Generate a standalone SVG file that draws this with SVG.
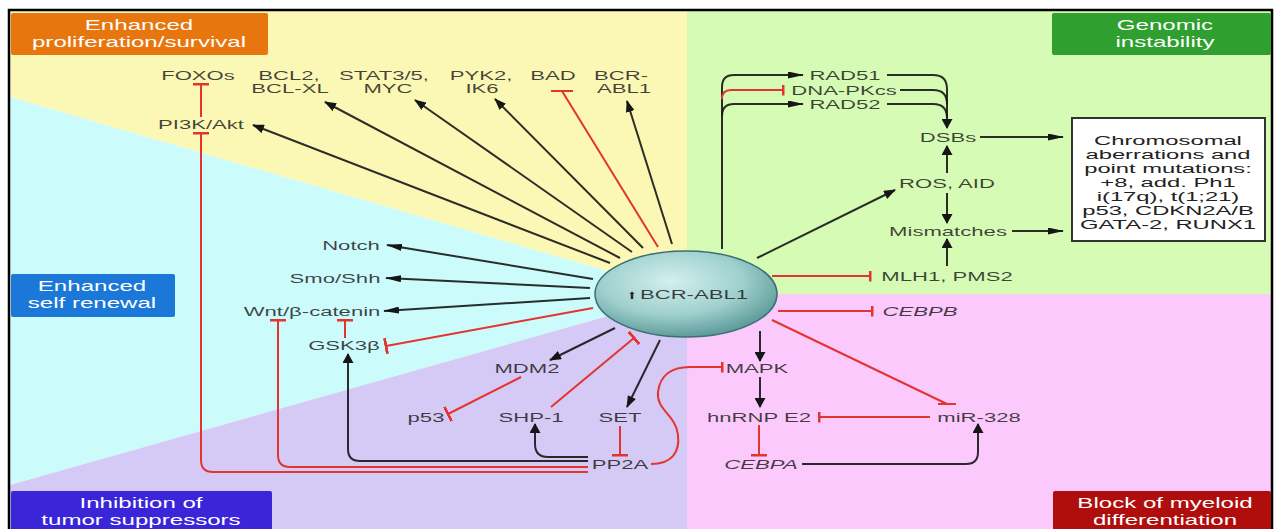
<svg xmlns="http://www.w3.org/2000/svg" width="1276" height="529" viewBox="0 0 1276 529">
<style>
.t{font-family:"Liberation Sans",Arial,sans-serif;font-size:13px;fill:#1a1a1a;fill-opacity:.82;text-anchor:middle}
.i{font-style:italic}
.w{font-family:"Liberation Sans",Arial,sans-serif;font-size:14px;fill:#fff;text-anchor:middle}
.c{font-family:"Liberation Sans",Arial,sans-serif;font-size:13.5px;fill:#222;text-anchor:middle}
.k{stroke:#161616;stroke-width:2;fill:none;stroke-opacity:.9}
.r{stroke:#e3342f;stroke-width:2;fill:none}
</style>
<defs>
<marker id="a" viewBox="0 0 12 9" refX="11" refY="4.5" markerWidth="12" markerHeight="9" markerUnits="userSpaceOnUse" orient="auto"><path d="M0,0L12,4.5L0,9z" fill="#161616"/></marker>
<marker id="ah" viewBox="0 0 16 7" refX="15" refY="3.5" markerWidth="16" markerHeight="7" markerUnits="userSpaceOnUse" orient="auto"><path d="M0,0L16,3.5L0,7z" fill="#161616"/></marker>
<marker id="av" viewBox="0 0 10 11" refX="9" refY="5.5" markerWidth="10" markerHeight="11" markerUnits="userSpaceOnUse" orient="auto"><path d="M0,0L10,5.5L0,11z" fill="#161616"/></marker>
<marker id="b" viewBox="0 0 3 16" refX="1.5" refY="8" markerWidth="3" markerHeight="16" markerUnits="userSpaceOnUse" orient="auto"><rect width="3" height="16" fill="#e3342f"/></marker>
<marker id="bs" viewBox="0 0 3 11" refX="1.5" refY="5.5" markerWidth="3" markerHeight="11" markerUnits="userSpaceOnUse" orient="auto"><rect width="3" height="11" fill="#e3342f"/></marker>
<radialGradient id="g" cx="42%" cy="35%" r="65%"><stop offset="0" stop-color="#d2f0ee"/><stop offset="0.6" stop-color="#9fd0cd"/><stop offset="1" stop-color="#5f9c9c"/></radialGradient>
</defs>

<g id="background">
<rect width="1276" height="529" fill="#fff"/>
<polygon points="10,10 687,10 687,294 686,294 10,97" fill="#fbf8b6"/>
<rect x="687" y="10" width="585" height="284" fill="#d6fbb4"/>
<rect x="687" y="294" width="585" height="235" fill="#fbc9fb"/>
<polygon points="10,97 686,294 10,485" fill="#cbfbfb"/>
<polygon points="10,485 686,294 687,294 687,529 10,529" fill="#d5c9f6"/>
<rect x="9" y="10" width="1263" height="525" fill="none" stroke="#000" stroke-width="2.5"/>
</g>

<g id="box-proliferation">
<rect x="11" y="13" width="257" height="42" rx="2" fill="#e8760e"/>
<text class="w" transform="translate(139 30) scale(1.72 1)">Enhanced</text>
<text class="w" transform="translate(139 47) scale(1.72 1)">proliferation/survival</text>
</g>
<g id="box-genomic">
<rect x="1052" y="13" width="219" height="42" rx="2" fill="#2f9f2f"/>
<text class="w" transform="translate(1165 30) scale(1.72 1)">Genomic</text>
<text class="w" transform="translate(1165 47) scale(1.72 1)">instability</text>
</g>
<g id="box-selfrenewal">
<rect x="11" y="274" width="164" height="43" rx="2" fill="#1b78d8"/>
<text class="w" transform="translate(92 291) scale(1.72 1)">Enhanced</text>
<text class="w" transform="translate(92 308) scale(1.72 1)">self renewal</text>
</g>
<g id="box-tumor">
<rect x="11" y="491" width="261" height="40" rx="2" fill="#3a25d8"/>
<text class="w" transform="translate(141 508) scale(1.72 1)">Inhibition of</text>
<text class="w" transform="translate(141 525) scale(1.72 1)">tumor suppressors</text>
</g>
<g id="box-myeloid">
<rect x="1053" y="491" width="218" height="40" rx="2" fill="#b00d0d"/>
<text class="w" transform="translate(1165 508) scale(1.72 1)">Block of myeloid</text>
<text class="w" transform="translate(1165 525) scale(1.72 1)">differentiation</text>
</g>

<g id="connectors">
<path class="k" d="M610,263 L253,125" marker-end="url(#a)"/>
<path class="k" d="M620,258 L325,102" marker-end="url(#a)"/>
<path class="k" d="M632,252 L415,100" marker-end="url(#a)"/>
<path class="k" d="M643,248 L495,99" marker-end="url(#a)"/>
<path class="k" d="M672,244 L627,101" marker-end="url(#a)"/>
<path class="k" d="M593,279 L387,245" marker-end="url(#ah)"/>
<path class="k" d="M590,288 L386,278" marker-end="url(#ah)"/>
<path class="k" d="M590,298 L384,311" marker-end="url(#ah)"/>
<path class="k" d="M615,328 L550,360" marker-end="url(#a)"/>
<path class="k" d="M660,340 L627,407" marker-end="url(#a)"/>
<path class="k" d="M760,331 L760,361" marker-end="url(#av)"/>
<path class="k" d="M760,377 L760,407" marker-end="url(#av)"/>
<path class="k" d="M802,464 L966,464 Q978,464 978,452 L978,424" marker-end="url(#av)"/>
<path class="k" d="M588,457 L548,457 Q535,457 535,444 L535,424" marker-end="url(#av)"/>
<path class="k" d="M588,461 L360,461 Q348,461 348,449 L348,354" marker-end="url(#av)"/>
<path class="k" d="M757,258 L895,190" marker-end="url(#a)"/>
<path class="k" d="M722,249 L722,87 Q722,75 734,75 L803,75" marker-end="url(#ah)"/>
<path class="k" d="M722,116 Q722,104 734,104 L803,104" marker-end="url(#ah)"/>
<path class="k" d="M887,75 L933,75 Q947,75 947,89 L947,128" marker-end="url(#av)"/>
<path class="k" d="M900,90 L933,90 Q947,90 947,104"/>
<path class="k" d="M887,104 L933,104 Q947,104 947,118"/>
<path class="k" d="M980,137 L1063,137" marker-end="url(#ah)"/>
<path class="k" d="M947,173 L947,146" marker-end="url(#av)"/>
<path class="k" d="M947,193 L947,223" marker-end="url(#av)"/>
<path class="k" d="M947,266 L947,239" marker-end="url(#av)"/>
<path class="k" d="M1012,231 L1063,231" marker-end="url(#ah)"/>
<path class="r" d="M201,117 L201,84" marker-end="url(#b)"/>
<path class="r" d="M588,472 L213,472 Q201,472 201,460 L201,133" marker-end="url(#b)"/>
<path class="r" d="M588,467 L290,467 Q278,467 278,455 L278,320" marker-end="url(#b)"/>
<path class="r" d="M345,338 L345,320" marker-end="url(#b)"/>
<path class="r" d="M593,308 L386,346" marker-end="url(#b)"/>
<path class="r" d="M658,247 L562,91"/>
<path class="r" d="M551,91 L573,91" stroke-width="3"/>
<path class="r" d="M521,377 L448,414" marker-end="url(#b)"/>
<path class="r" d="M551,407 L634,338" marker-end="url(#b)"/>
<path class="r" d="M620,426 L620,455" marker-end="url(#b)"/>
<path class="r" d="M651,464 C672,464 680,452 678,435 C676,415 656,410 658,392 C660,375 672,367 690,367 L722,367" marker-end="url(#bs)"/>
<path class="r" d="M759,425 L759,455" marker-end="url(#b)"/>
<path class="r" d="M930,417 L819,417" marker-end="url(#bs)"/>
<path class="r" d="M772,320 L947,404"/>
<path class="r" d="M938,404 L956,404" stroke-width="3"/>
<path class="r" d="M778,311 L872,311" marker-end="url(#bs)"/>
<path class="r" d="M772,276 L870,276" marker-end="url(#bs)"/>
<path class="r" d="M722,99 Q722,90 731,90 L783,90" marker-end="url(#bs)"/>
</g>

<g id="node-bcrabl1">
<ellipse cx="686" cy="294" rx="91" ry="43" fill="url(#g)" stroke="#3d6f70" stroke-width="1.5"/>
<text x="632" y="299" font-family="DejaVu Sans, sans-serif" font-size="10" fill="#222" text-anchor="middle">⬆</text>
<text class="t" transform="translate(694 299) scale(1.7 1)">BCR-ABL1</text>
</g>

<g id="node-foxos"><text class="t" transform="translate(198 80) scale(1.7 1)">FOXOs</text></g>
<g id="node-bcl2"><text class="t" transform="translate(289 80) scale(1.7 1)">BCL2,</text><text class="t" transform="translate(290 93) scale(1.7 1)">BCL-XL</text></g>
<g id="node-stat"><text class="t" transform="translate(384 80) scale(1.7 1)">STAT3/5,</text><text class="t" transform="translate(388 93) scale(1.7 1)">MYC</text></g>
<g id="node-pyk2"><text class="t" transform="translate(481 80) scale(1.7 1)">PYK2,</text><text class="t" transform="translate(482 93) scale(1.7 1)">IK6</text></g>
<g id="node-bad"><text class="t" transform="translate(553 80) scale(1.7 1)">BAD</text></g>
<g id="node-bcrabl1-top"><text class="t" transform="translate(621 80) scale(1.7 1)">BCR-</text><text class="t" transform="translate(624 93) scale(1.7 1)">ABL1</text></g>
<g id="node-pi3k"><text class="t" transform="translate(201 129) scale(1.7 1)">PI3K/Akt</text></g>
<g id="node-notch"><text class="t" transform="translate(351 250) scale(1.7 1)">Notch</text></g>
<g id="node-smo"><text class="t" transform="translate(335 283) scale(1.7 1)">Smo/Shh</text></g>
<g id="node-wnt"><text class="t" transform="translate(312 316) scale(1.7 1)">Wnt/β-catenin</text></g>
<g id="node-gsk3b"><text class="t" transform="translate(344 350) scale(1.7 1)">GSK3β</text></g>
<g id="node-mdm2"><text class="t" transform="translate(527 373) scale(1.7 1)">MDM2</text></g>
<g id="node-p53"><text class="t" transform="translate(426 422) scale(1.7 1)">p53</text></g>
<g id="node-shp1"><text class="t" transform="translate(531 422) scale(1.7 1)">SHP-1</text></g>
<g id="node-set"><text class="t" transform="translate(620 422) scale(1.7 1)">SET</text></g>
<g id="node-pp2a"><text class="t" transform="translate(620 469) scale(1.7 1)">PP2A</text></g>
<g id="node-mapk"><text class="t" transform="translate(757 373) scale(1.7 1)">MAPK</text></g>
<g id="node-hnrnp"><text class="t" transform="translate(759 422) scale(1.7 1)">hnRNP E2</text></g>
<g id="node-cebpa"><text class="t i" transform="translate(761 469) scale(1.7 1)">CEBPA</text></g>
<g id="node-mir328"><text class="t" transform="translate(979 422) scale(1.7 1)">miR-328</text></g>
<g id="node-cebpb"><text class="t i" transform="translate(920 316) scale(1.7 1)">CEBPB</text></g>
<g id="node-mlh1"><text class="t" transform="translate(947 281) scale(1.7 1)">MLH1, PMS2</text></g>
<g id="node-mismatches"><text class="t" transform="translate(948 236) scale(1.7 1)">Mismatches</text></g>
<g id="node-ros"><text class="t" transform="translate(947 188) scale(1.7 1)">ROS, AID</text></g>
<g id="node-dsbs"><text class="t" transform="translate(948 142) scale(1.7 1)">DSBs</text></g>
<g id="node-rad51"><text class="t" transform="translate(845 80) scale(1.7 1)">RAD51</text></g>
<g id="node-dnapkcs"><text class="t" transform="translate(844 95) scale(1.7 1)">DNA-PKcs</text></g>
<g id="node-rad52"><text class="t" transform="translate(845 109) scale(1.7 1)">RAD52</text></g>

<g id="node-chromosomal">
<rect x="1072" y="118" width="193" height="123" fill="#fff" stroke="#333" stroke-width="2"/>
<text class="c" transform="translate(1168 145) scale(1.76 1)">Chromosomal</text>
<text class="c" transform="translate(1168 159) scale(1.76 1)">aberrations and</text>
<text class="c" transform="translate(1168 173) scale(1.76 1)">point mutations:</text>
<text class="c" transform="translate(1168 187) scale(1.76 1)">+8, add. Ph1</text>
<text class="c" transform="translate(1168 201) scale(1.76 1)">i(17q), t(1;21)</text>
<text class="c" transform="translate(1168 215) scale(1.76 1)">p53, CDKN2A/B</text>
<text class="c" transform="translate(1168 229) scale(1.76 1)">GATA-2, RUNX1</text>
</g>
</svg>
